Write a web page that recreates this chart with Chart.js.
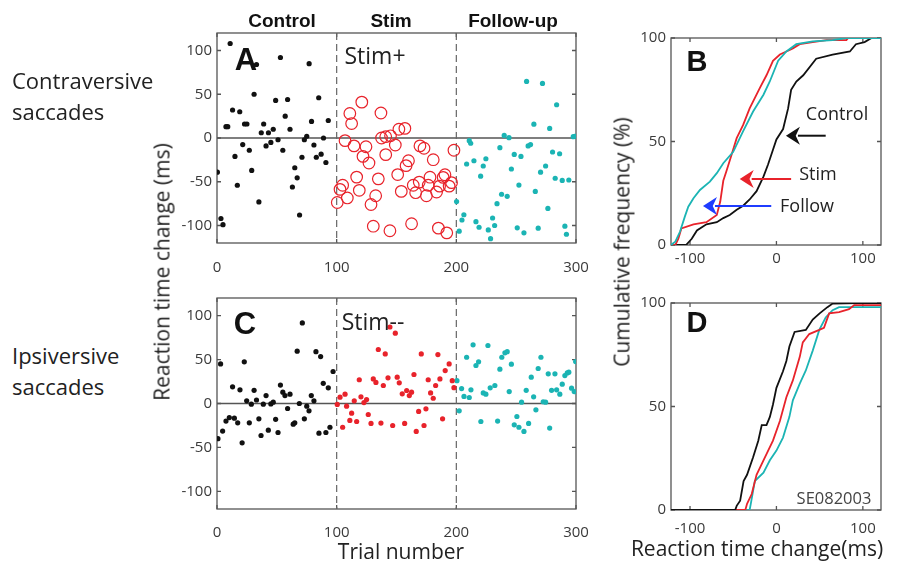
<!DOCTYPE html>
<html>
<head>
<meta charset="utf-8">
<script src="https://cdn.jsdelivr.net/npm/chart.js@4.4.1/dist/chart.umd.min.js"></script>
<style>
  body { margin: 0; background: #fff; }
  #fig { position: relative; width: 902px; height: 565px; overflow: hidden; font-family: "Open Sans", sans-serif; color: #222; }
  canvas { position: absolute; }
  .lbl { position: absolute; white-space: nowrap; line-height: 1; transform: translate(-50%, -50%); }
  .bold { font-family: "Liberation Sans", Arial, sans-serif; font-weight: bold; color: #111; }
</style>
</head>
<body>
<div id="fig">
  <canvas id="chartA" width="440" height="280" style="left:150px;top:0px"></canvas>
  <canvas id="chartC" width="440" height="255" style="left:150px;top:285px"></canvas>
  <canvas id="chartB" width="282" height="260" style="left:620px;top:20px"></canvas>
  <canvas id="chartD" width="282" height="250" style="left:620px;top:285px"></canvas>
</div>
<script>
// ---- data: [trial, reaction time change (ms)] ----
const aControl = [[11,108],[33,84],[53,92],[77,85],[31,50],[49,43],[59,44],[85,46],[13,32],[19,30],[57,25],[7.5,13],[9,13],[23,16],[25,16],[39,16],[79,19],[93,20],[37,6],[43,6],[47,10],[61,10],[75,2],[73,-2],[89,0],[51,-2],[45,-5],[21.5,-7.5],[41,-9],[27,-14],[55,-14],[81,-8],[87,-18.5],[15,-21],[71,-22],[83,-22],[91,-28],[0.3,-39],[29,-37],[65,-34],[67,-45.5],[17,-54],[63,-56],[35,-73],[3.3,-92],[5,-99],[69,-88]];
const aStim = [[121,41],[111,28],[112.5,16.5],[137,28.6],[137.5,0],[141,1.5],[145,2.5],[152,10],[157,11],[149,-8],[107,-3],[114.5,-9],[124.5,-10],[122,-21],[127,-28.6],[141,-19],[160,-26],[158,-31.6],[169.6,-9],[173,-11.7],[180.7,-24.8],[198,-14],[116.7,-44.7],[134.8,-46.7],[151,-41.8],[105,-54],[102.8,-58.7],[118.9,-59.8],[100.5,-73.7],[108.9,-68.5],[132.6,-66],[128.7,-76],[154,-61],[164,-54],[169,-50.4],[166,-62.5],[175,-66],[178,-44.8],[176.5,-54],[183.5,-61.7],[186,-55],[190.5,-42],[189,-45],[194,-55],[196,-51],[130.6,-100.8],[144.5,-106],[162.6,-98],[185,-103],[192,-108.4]];
const aFollow = [[258.7,64.7],[272,62.4],[283.8,38],[264.8,15.8],[278,10.9],[240,3],[244,0.4],[297.7,1.5],[299,2],[210.8,-3],[212,-6],[236.4,-11],[260,-9],[262,-7.5],[280.4,-16],[286.3,-18],[248.4,-18.8],[254,-21],[224.7,-23.7],[214.7,-26],[208.6,-29.7],[222.5,-32],[274.6,-32],[246,-35.4],[270.4,-39],[220.3,-43.6],[282.6,-46],[288.5,-48.5],[294,-48],[252.3,-53.8],[266,-61],[237.8,-64.3],[242.5,-66.6],[200.2,-72.6],[234,-75],[276.5,-80.5],[206.3,-87.7],[204.7,-93.7],[230.3,-91.4],[216.4,-95.6],[219,-102],[232,-100],[202.4,-106.5],[226.7,-105],[228.6,-115],[250.9,-102.7],[256.5,-108.4],[268.4,-103],[290.7,-100.8],[292,-110]];

const cControl = [[71.3,91.7],[67,59.5],[82.7,59],[86.6,53.4],[3,45],[22.8,47.4],[97,36.4],[88.8,23],[93,17.8],[13,19],[19.2,15.5],[31,15],[53,21],[55,12.9],[56.8,9],[61,10.6],[41,9],[24.8,3],[28.7,-0.8],[33,4],[38.7,-0.8],[45,-0.5],[47,1.5],[78.8,9],[81,3],[68.8,0],[75,-3],[76.9,-8.3],[59,-5.7],[10.3,-16],[7.5,-20],[14.5,-16.7],[17.3,-22],[27,-22],[35,-17.4],[49,-18],[63.7,-23.5],[65,-22],[73,-17.4],[4.7,-31.4],[0.8,-40],[21,-44.7],[36.8,-36.4],[42.9,-30.3],[51,-33],[85.2,-33.7],[91,-33],[94.4,-27]];
const cStim = [[144.5,87],[149,80],[134.8,61.4],[140.6,56.4],[170.7,56.4],[184.6,55.7],[194,45],[190.7,37.5],[164.6,33],[118.9,27],[130.6,28],[132.8,24],[142.9,29.2],[150.6,30],[152.3,23.5],[139,20.5],[176.5,27],[186.3,28],[182.7,20.5],[196.6,26],[198,18],[158.5,14.8],[162.6,12.9],[160.7,9],[154.8,11],[178.5,12],[180.7,6],[102.8,7.2],[107,10.6],[114.7,3],[120.3,7.6],[125,4.5],[122.8,1.1],[100.5,-1],[108.3,-3],[112.5,-11],[126.4,-12.5],[111,-19.3],[116.7,-20.5],[105,-27],[128.7,-22.7],[137,-22.3],[146.8,-25],[156.8,-22.7],[168.5,-9],[174.6,-6],[166.5,-31.8],[173,-25],[188.5,-17.4]];
const cFollow = [[214,66.7],[226.4,66],[208.6,52.6],[216.4,43.2],[218.6,47.4],[238,52.6],[240.6,57.6],[242.5,59],[236.4,39],[246,44.7],[270.7,52.6],[268.4,39.8],[262.6,30],[276.8,33.7],[282.4,33.7],[290.7,31.8],[292.7,34.8],[294,35.6],[288.5,22],[299.7,47.7],[200.5,26],[204.4,17],[212.2,15.5],[206.4,8],[210.8,6.8],[222.5,12],[224.7,10.6],[228.3,17.8],[232.2,20.5],[244.2,13.6],[258.4,15],[254.5,1.5],[264.6,7.6],[272.6,2],[274.6,1.5],[279.6,15],[283.8,15.5],[286.5,10.6],[296.3,17.4],[298.5,13.6],[202.4,-8.3],[220.5,-20.5],[234.5,-20],[250.6,-14.8],[248.4,-24.2],[252.3,-27],[256.5,-31.8],[260.4,-22.7],[266.5,-7.2],[278,-28]];

// cumulative frequency curves: [reaction time change (ms), %]
const bControl = [[-122,0],[-104.6,0],[-98,3],[-92,7],[-81,10],[-69,11],[-61.5,13],[-54,14.5],[-46,17],[-38.5,19],[-31,22],[-23,26],[-15,33],[-9.6,39],[-4,46],[0,51],[7.7,56],[13.5,66],[17,75],[23,79],[31,82],[46,90],[65,92],[85,93.5],[92,97],[102,98],[110,100],[121,100]];
const bStim = [[-122,0],[-117,0],[-113.5,3],[-110,8],[-96,10],[-81,11],[-69,14.5],[-65,21],[-61.5,31],[-58,35.5],[-52,43.5],[-46,51.6],[-38.5,58],[-31,66],[-19,76],[-11.5,82],[-4,89],[4,92],[11.5,93.5],[19,95],[27,97],[42,98],[58,99],[81,99],[83,100]];
const bFollow = [[-122,0],[-121,0],[-117,1.6],[-111.5,6.5],[-106,13.7],[-102,18.5],[-96,22.6],[-88.5,26.6],[-77,30.6],[-69,34.7],[-61.5,39.5],[-50,45],[-38.5,55],[-27,64.5],[-15,72.6],[-7.7,79],[2,89],[11.5,93.5],[23,97],[42,98.4],[65,99],[81,100],[121,100]];

const dControl = [[-122,0],[-47.7,0],[-46,2],[-42,4.5],[-38,14],[-34,17],[-27,25.5],[-21,33.5],[-17,41],[-11.5,41],[-7.6,45],[-4,51],[0,59],[7.6,67],[11.5,72],[15,79],[21,86],[34,87],[42,92],[50,95],[59,98],[65,99.7],[95,100],[121,100]];
const dStim = [[-122,0],[-36,0],[-34,3],[-28.6,7.7],[-23,17],[-15,24],[-4,33.5],[4,43],[11.5,54.5],[19,62.6],[27,74],[30.5,81],[38,85],[49.6,87],[55,88],[61,95],[72.5,95.6],[84,97],[90,99],[121,99]];
const dFollow = [[-122,0],[-31,0],[-29,4.5],[-25,14],[-15,18],[-7.6,24],[0,28.7],[7.6,35],[15,45],[19,53],[27,61],[34,67.4],[42,77],[49.6,87],[57,93],[65,96.5],[72.5,98],[121,98]];

// annotation arrows in panel B: [tail x, tip x, y]
const bArrows = [[57,11,52.8],[17,-42.5,31.9],[-6,-85,18.8]];

const trialTicks = [0, 100, 200, 300];
const rtTicks = [-100, -50, 0, 50, 100];
const cdfXTicks = [-100, 0, 100];
const cdfYTicks = [0, 50, 100];
const phaseEdges = [100, 200];

const BLACK = '#111111';
const RED = '#e8232b';
const CYAN = '#1bb4b4';
const BLUE = '#1f3cff';
const AXIS = '#555555';

const pts = arr => arr.map(p => ({ x: p[0], y: p[1] }));

// MATLAB-like frame: box, inward ticks, zero line, dashed phase edges, arrows
const framePlugin = {
  id: 'frame',
  beforeDatasetsDraw(chart, args, opts) {
    const { ctx, chartArea: a, scales } = chart;
    ctx.save();
    ctx.strokeStyle = AXIS;
    ctx.lineWidth = 1.3;
    if (opts.zero) {
      const y0 = scales.y.getPixelForValue(0);
      ctx.beginPath(); ctx.moveTo(a.left, y0); ctx.lineTo(a.right, y0); ctx.stroke();
    }
    ctx.strokeRect(a.left, a.top, a.right - a.left, a.bottom - a.top);
    const tl = 4;
    ctx.beginPath();
    scales.x.ticks.forEach(t => {
      const x = scales.x.getPixelForValue(t.value);
      ctx.moveTo(x, a.bottom); ctx.lineTo(x, a.bottom - tl);
      ctx.moveTo(x, a.top); ctx.lineTo(x, a.top + tl);
    });
    scales.y.ticks.forEach(t => {
      const y = scales.y.getPixelForValue(t.value);
      ctx.moveTo(a.left, y); ctx.lineTo(a.left + tl, y);
      ctx.moveTo(a.right, y); ctx.lineTo(a.right - tl, y);
    });
    ctx.stroke();
    if (opts.dashed) {
      ctx.strokeStyle = '#666';
      ctx.lineWidth = 1.2;
      ctx.setLineDash([7, 4]);
      opts.dashed.forEach(v => {
        const x = scales.x.getPixelForValue(v);
        ctx.beginPath(); ctx.moveTo(x, a.top); ctx.lineTo(x, a.bottom); ctx.stroke();
      });
    }
    ctx.restore();
  },
  afterDatasetsDraw(chart, args, opts) {
    if (!opts.arrows) return;
    const { ctx, scales } = chart;
    ctx.save();
    const colors = [BLACK, RED, BLUE];
    opts.arrows.forEach((ar, i) => {
      const x0 = scales.x.getPixelForValue(ar[0]);
      const x1 = scales.x.getPixelForValue(ar[1]);
      const y = scales.y.getPixelForValue(ar[2]);
      const hl = 14, hw = 9;
      ctx.strokeStyle = colors[i];
      ctx.fillStyle = colors[i];
      ctx.lineWidth = 2;
      ctx.beginPath(); ctx.moveTo(x0, y); ctx.lineTo(x1 + hl - 2, y); ctx.stroke();
      ctx.beginPath();
      ctx.moveTo(x1, y);
      ctx.lineTo(x1 + hl, y - hw);
      ctx.lineTo(x1 + hl * 0.7, y);
      ctx.lineTo(x1 + hl, y + hw);
      ctx.closePath();
      ctx.fill();
    });
    ctx.restore();
  }
};

function makeScales(xr, xTicks, yr, yTicks, yWidth, xHeight, xPad) {
  const tickFont = { family: 'Open Sans', size: 15 };
  return {
    x: {
      type: 'linear', min: xr[0], max: xr[1],
      afterBuildTicks: s => { s.ticks = xTicks.map(v => ({ value: v })); },
      afterFit: s => { s.height = xHeight; s.paddingLeft = 0; s.paddingRight = 0; },
      grid: { display: false, drawTicks: false },
      border: { display: false },
      ticks: { font: tickFont, color: '#3a3a3a', padding: xPad, maxRotation: 0 }
    },
    y: {
      type: 'linear', min: yr[0], max: yr[1],
      afterBuildTicks: s => { s.ticks = yTicks.map(v => ({ value: v })); },
      afterFit: s => { s.width = yWidth; s.paddingTop = 0; s.paddingBottom = 0; },
      grid: { display: false, drawTicks: false },
      border: { display: false },
      ticks: { font: tickFont, color: '#3a3a3a', padding: 5 }
    }
  };
}

const baseOptions = (scales, padding, frame) => ({
  responsive: false,
  animation: false,
  devicePixelRatio: 1,
  layout: { padding: padding },
  scales: scales,
  plugins: { legend: { display: false }, tooltip: { enabled: false }, frame: frame }
});

const dot = (data, color) => ({
  data: pts(data), pointRadius: 2.6, pointBackgroundColor: color, pointBorderWidth: 0, showLine: false
});

const cdf = (data, color) => ({
  data: pts(data), showLine: true, borderColor: color, borderWidth: 1.8, pointRadius: 0, fill: false, tension: 0
});

// panel A
new Chart(document.getElementById('chartA'), {
  type: 'scatter',
  data: {
    datasets: [
      dot(aControl, BLACK),
      { data: pts(aStim), pointRadius: 5.8, pointBackgroundColor: 'rgba(0,0,0,0)', pointBorderColor: RED, pointBorderWidth: 1.2 },
      dot(aFollow, CYAN)
    ]
  },
  options: baseOptions(makeScales([0, 300], trialTicks, [-120, 120], rtTicks, 67, 37, 16),
    { top: 33, right: 14, left: 0, bottom: 0 }, { zero: true, dashed: phaseEdges }),
  plugins: [framePlugin]
});

// panel C
new Chart(document.getElementById('chartC'), {
  type: 'scatter',
  data: { datasets: [dot(cControl, BLACK), dot(cStim, RED), dot(cFollow, CYAN)] },
  options: baseOptions(makeScales([0, 300], trialTicks, [-120, 120], rtTicks, 67, 31, 15),
    { top: 13, right: 14, left: 0, bottom: 0 }, { zero: true, dashed: phaseEdges }),
  plugins: [framePlugin]
});

// panel B
new Chart(document.getElementById('chartB'), {
  type: 'scatter',
  data: { datasets: [cdf(bFollow, CYAN), cdf(bStim, RED), cdf(bControl, BLACK)] },
  options: baseOptions(makeScales([-122, 121], cdfXTicks, [0, 100], cdfYTicks, 51, 35, 5),
    { top: 18, right: 21, left: 0, bottom: 0 }, { arrows: bArrows }),
  plugins: [framePlugin]
});

// panel D
new Chart(document.getElementById('chartD'), {
  type: 'scatter',
  data: { datasets: [cdf(dControl, BLACK), cdf(dStim, RED), cdf(dFollow, CYAN)] },
  options: baseOptions(makeScales([-122, 121], cdfXTicks, [0, 100], cdfYTicks, 51, 25, 10),
    { top: 18, right: 21, left: 0, bottom: 0 }, {}),
  plugins: [framePlugin]
});

// text placed around the panels: [text, centre x, centre y, css]
const texts = [
  ['Control', 282, 20, 'bold:19'],
  ['Stim', 391, 20, 'bold:19'],
  ['Follow-up', 513, 20, 'bold:19'],
  ['A', 246, 59, 'bold:31'],
  ['B', 697, 61, 'bold:29'],
  ['C', 245, 323, 'bold:31'],
  ['D', 697, 322, 'bold:29'],
  ['Stim+', 375, 55, 'sans:23'],
  ['Stim--', 373, 321, 'sans:23'],
  ['Contraversive', 88, 80, 'sans:22'],
  ['saccades', 62, 111, 'sans:22'],
  ['Ipsiversive', 75, 355, 'sans:22'],
  ['saccades', 62, 386, 'sans:22'],
  ['Trial number', 401, 551, 'sans:21'],
  ['Reaction time change(ms)', 757, 548, 'sans:21'],
  ['Control', 837, 113, 'sans:18'],
  ['Stim', 818, 173, 'sans:18'],
  ['Follow', 807, 205, 'sans:18'],
  ['SE082003', 834, 498, 'sans:16.5:#444']
];
const fig = document.getElementById('fig');
texts.forEach(t => {
  const d = document.createElement('div');
  const st = t[3].split(':');
  d.className = 'lbl' + (st[0] === 'bold' ? ' bold' : '');
  d.textContent = t[0];
  d.style.left = t[1] + 'px';
  d.style.top = t[2] + 'px';
  d.style.fontSize = st[1] + 'px';
  if (st[2]) d.style.color = st[2];
  if (t[0] === 'Contraversive' || t[0] === 'Ipsiversive' || t[0] === 'saccades') {
    d.style.transform = 'translate(0, -50%)';
    d.style.left = '12px';
  }
  fig.appendChild(d);
});

// rotated axis titles
[['Reaction time change (ms)', 162, 272], ['Cumulative frequency (%)', 622, 242]].forEach(t => {
  const d = document.createElement('div');
  d.className = 'lbl';
  d.textContent = t[0];
  d.style.left = t[1] + 'px';
  d.style.top = t[2] + 'px';
  d.style.fontSize = '21px';
  d.style.transform = 'translate(-50%, -50%) rotate(-90deg)';
  fig.appendChild(d);
});
</script>
</body>
</html>
